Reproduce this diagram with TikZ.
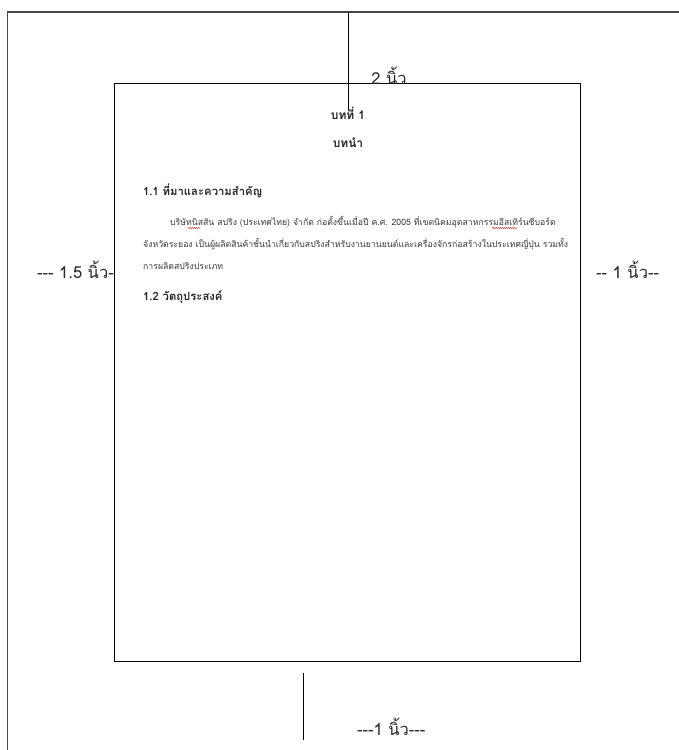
\documentclass[tikz,border=0pt]{standalone}
\usepackage{fontspec}
\newfontfamily\thai[Script=Thai]{Loma}
\usetikzlibrary{decorations.pathmorphing}
\tikzset{
  frameline/.style={draw=black!72, line width=1.6pt},
  guide/.style={draw=black, line width=0.9pt},
  pagebox/.style={draw=black, line width=1pt, inner sep=0pt, anchor=north west},
  lbl/.style={inner sep=0pt, font=\thai\fontsize{16.5}{18}\selectfont, text=black!85},
  title/.style={inner sep=0pt, font=\thai\bfseries\fontsize{12}{14}\selectfont, text=black!85},
  head/.style={inner sep=0pt, anchor=west, font=\thai\bfseries\fontsize{11.3}{13}\selectfont, text=black!85},
  body/.style={inner sep=0pt, anchor=west, font=\thai\fontsize{8.7}{10}\selectfont, text=black!78},
  spell/.style={draw=red!80!black, line width=0.5pt, decorate, decoration={snake, amplitude=0.5pt, segment length=2pt}}
}
\begin{document}
\begin{tikzpicture}[x=1pt,y=-1pt]
\useasboundingbox (0,0) rectangle (679,750);
% outer frame (left and top edges only)
\coordinate (fbl) at (7.5,750);
\coordinate (ftl) at (7.5,12);
\coordinate (ftr) at (679,12);
\draw[frameline] (fbl) -- (ftl) -- (ftr);
% page
\node[pagebox, minimum width=466pt, minimum height=578pt] (page) at (114,83) {};
% guide lines
\coordinate (gt1) at (348,12);
\coordinate (gt2) at (348,110);
\draw[guide] (gt1) -- (gt2);
\coordinate (gb1) at (303,673);
\coordinate (gb2) at (303,740);
\draw[guide] (gb1) -- (gb2);
% margin labels
\node[lbl] (ltop) at (389,76) {2 นิ้ว};
\node[lbl, anchor=east] (lleft) at (114,270) {--- 1.5 นิ้ว-};
\node[lbl, anchor=west] (lright) at (596,270) {-- 1 นิ้ว--};
\node[lbl, anchor=west] (lbot) at (357,727) {---1 นิ้ว---};
% page content
\node[title] (t1) at (348,113) {บทที่ 1};
\node[title] (t2) at (348,143) {บทนำ};
\node[head] (h1) at (143,191) {1.1 ที่มาและความสำคัญ};
\node[body] (p1) at (170,222) {บริษัทนิสสัน สปริง (ประเทศไทย) จำกัด ก่อตั้งขึ้นเมื่อปี ค.ศ. 2005 ที่เขตนิคมอุตสาหกรรมอีสเทิร์นซีบอร์ด};
\node[body] (p2) at (143,244) {จังหวัดระยอง เป็นผู้ผลิตสินค้าชั้นนำเกี่ยวกับสปริงสำหรับงานยานยนต์และเครื่องจักรก่อสร้างในประเทศญี่ปุ่น รวมทั้ง};
\node[body] (p3) at (143,266) {การผลิตสปริงประเภท};
\node[head] (h2) at (143,297) {1.2 วัตถุประสงค์};
% spell-check underlines
\coordinate (s1a) at (188,228);
\coordinate (s1b) at (200,228);
\draw[spell] (s1a) -- (s1b);
\coordinate (s2a) at (492,228);
\coordinate (s2b) at (517,228);
\draw[spell] (s2a) -- (s2b);
\end{tikzpicture}
\end{document}
